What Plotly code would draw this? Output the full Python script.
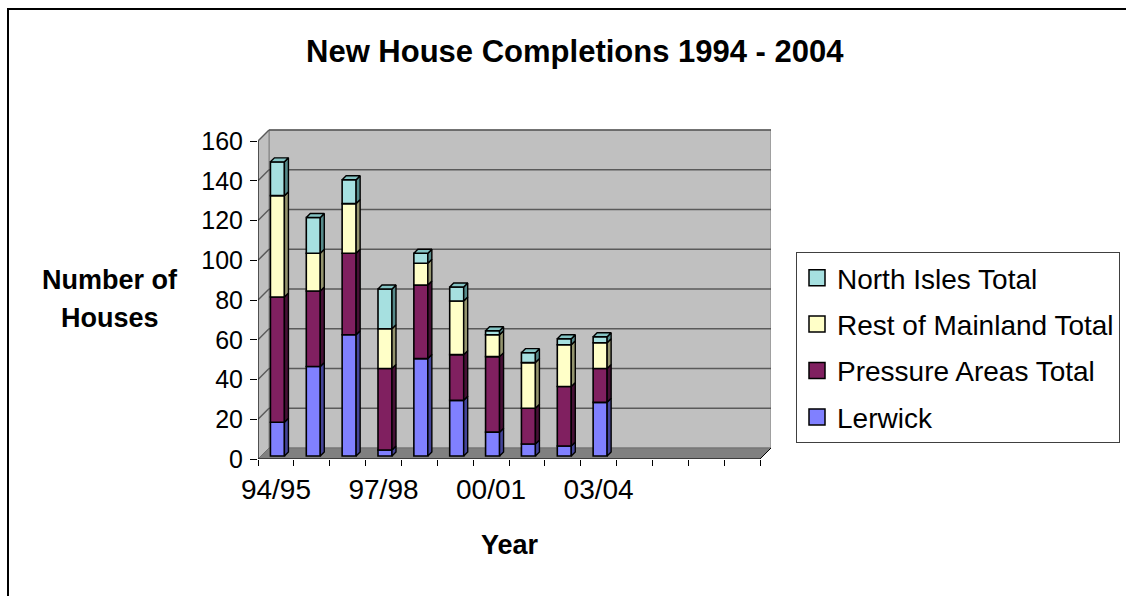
import plotly.graph_objects as go

# ---------------- data ----------------
categories = ["94/95", "95/96", "96/97", "97/98", "98/99", "99/00",
              "00/01", "01/02", "02/03", "03/04"]
n_slots = 14  # category slots on the axis (last ones empty)
lerwick = [17, 45, 61, 3, 49, 28, 12, 6, 5, 27]
pressure = [63, 38, 41, 41, 37, 23, 38, 18, 30, 17]
rest_mainland = [51, 19, 25, 20, 11, 27, 11, 23, 21, 13]
north_isles = [17, 18, 12, 20, 5, 7, 2, 5, 3, 3]
y_ticks = [0, 20, 40, 60, 80, 100, 120, 140, 160]
x_label_idx = [0, 3, 6, 9]

series = [
    ("Lerwick", lerwick, "#8080FF", "#444499", "#A8A8FF"),
    ("Pressure Areas Total", pressure, "#802060", "#461035", "#A04080"),
    ("Rest of Mainland Total", rest_mainland, "#FFFFC8", "#94946E", "#E0E0B0"),
    ("North Isles Total", north_isles, "#A6E0E0", "#568A8A", "#84C4C4"),
]

# ---------------- geometry (pixels -> data units) ----------------
W, H = 1126, 596
FX0, FX1 = 258, 760          # front x-axis pixel extent
FY0, FY160 = 459, 141         # front y-axis pixel of 0 and 160
PXX = (FX1 - FX0) / n_slots
PXY = (FY0 - FY160) / 160.0
WALL_DX, WALL_DY = 11 / PXX, 11 / PXY
BAR_DX, BAR_DY = 4 / PXX, 4 / PXY
BAR_W = 14 / PXX
BAR_BASE = 3 / PXY
BAR_SHIFT = 1.5 / PXX

xr = [-0.5, n_slots - 0.5 + WALL_DX]
yr = [0, 160 + WALL_DY + 2]
x_px1 = FX0 + (xr[1] - xr[0]) * PXX
y_px_top = FY0 - yr[1] * PXY
xdom = [FX0 / W, x_px1 / W]
ydom = [(H - FY0) / H, (H - y_px_top) / H]

fig = go.Figure()

n = len(categories)
cum = [0.0] * n
tops = [None] * n
for name, vals, front, side, top in series:
    xs = [i + BAR_SHIFT for i in range(n)]
    bases = [c + BAR_BASE for c in cum]
    fig.add_trace(go.Bar(
        x=xs, y=vals, base=bases, width=BAR_W,
        marker=dict(color=front, line=dict(color="black", width=1.6)),
        showlegend=False, hoverinfo="skip"))
    # side faces
    px, py = [], []
    for i in range(n):
        if vals[i] <= 0:
            continue
        xR = xs[i] + BAR_W / 2
        y0 = bases[i]
        y1 = bases[i] + vals[i]
        px += [xR, xR + BAR_DX, xR + BAR_DX, xR, xR, None]
        py += [y0, y0 + BAR_DY, y1 + BAR_DY, y1, y0, None]
        tops[i] = (xs[i], y1, top)
    fig.add_trace(go.Scatter(
        x=px, y=py, mode="lines", fill="toself", fillcolor=side,
        line=dict(color="black", width=1.4), showlegend=False, hoverinfo="skip"))
    cum = [c + v for c, v in zip(cum, vals)]

# top faces
by_color = {}
for t in tops:
    if t is None:
        continue
    xc, y1, col = t
    xL, xR = xc - BAR_W / 2, xc + BAR_W / 2
    lst = by_color.setdefault(col, ([], []))
    lst[0].extend([xL, xL + BAR_DX, xR + BAR_DX, xR, xL, None])
    lst[1].extend([y1, y1 + BAR_DY, y1 + BAR_DY, y1, y1, None])
for col, (px, py) in by_color.items():
    fig.add_trace(go.Scatter(
        x=px, y=py, mode="lines", fill="toself", fillcolor=col,
        line=dict(color="black", width=1.4), showlegend=False, hoverinfo="skip"))

# legend entries (top to bottom)
for rank, (name, vals, front, side, top) in enumerate(reversed(series)):
    fig.add_trace(go.Scatter(
        x=[None], y=[None], mode="markers", name=name, legendgroup=name,
        legendrank=rank + 1,
        marker=dict(symbol="square", size=16, color=front,
                    line=dict(color="black", width=1.5))))

# ---------------- walls, floor, gridlines ----------------
shapes = []
x_lo, x_hi = -0.5, n_slots - 0.5
# back wall
shapes.append(dict(type="rect", xref="x", yref="y", layer="below",
                   x0=x_lo + WALL_DX, x1=x_hi + WALL_DX, y0=WALL_DY, y1=160 + WALL_DY,
                   fillcolor="#C0C0C0", line=dict(color="#808080", width=1)))
# left wall
shapes.append(dict(type="path", xref="x", yref="y", layer="below",
                   path=f"M{x_lo},0 L{x_lo + WALL_DX},{WALL_DY} L{x_lo + WALL_DX},{160 + WALL_DY} L{x_lo},160 Z",
                   fillcolor="#C0C0C0", line=dict(color="#808080", width=1)))
# floor
shapes.append(dict(type="path", xref="x", yref="y", layer="below",
                   path=f"M{x_lo},0 L{x_hi},0 L{x_hi + WALL_DX},{WALL_DY} L{x_lo + WALL_DX},{WALL_DY} Z",
                   fillcolor="#808080", line=dict(color="#707070", width=1)))
for v in y_ticks[1:]:
    shapes.append(dict(type="line", xref="x", yref="y", layer="below",
                       x0=x_lo + WALL_DX, x1=x_hi + WALL_DX, y0=v + WALL_DY, y1=v + WALL_DY,
                       line=dict(color="#5A5A5A", width=1.5)))
    shapes.append(dict(type="line", xref="x", yref="y", layer="below",
                       x0=x_lo, x1=x_lo + WALL_DX, y0=v, y1=v + WALL_DY,
                       line=dict(color="#5A5A5A", width=1.5)))
# front axis lines
shapes.append(dict(type="line", xref="x", yref="y", x0=x_lo, x1=x_lo, y0=0, y1=160,
                   line=dict(color="black", width=1)))
shapes.append(dict(type="line", xref="x", yref="y", x0=x_lo, x1=x_hi, y0=0, y1=0,
                   line=dict(color="black", width=1)))
shapes.append(dict(type="line", xref="x", yref="y", x0=x_hi, x1=x_hi + WALL_DX, y0=0, y1=WALL_DY,
                   line=dict(color="black", width=1)))
# chart border
shapes.append(dict(type="rect", xref="paper", yref="paper",
                   x0=8 / W, x1=1.02, y0=-0.02, y1=(H - 9) / H,
                   line=dict(color="black", width=2), fillcolor="rgba(0,0,0,0)"))

FONT = "Liberation Sans, Arial, sans-serif"
annotations = [
    dict(text="<b>New House Completions 1994 - 2004</b>", x=575 / W, y=(H - 52) / H,
         xref="paper", yref="paper", showarrow=False, xanchor="center", yanchor="middle",
         font=dict(size=31, family=FONT, color="black")),
    dict(text="<b>Number of</b>", x=110 / W, y=(H - 280) / H,
         xref="paper", yref="paper", showarrow=False, xanchor="center", yanchor="middle",
         font=dict(size=27, family=FONT, color="black")),
    dict(text="<b>Houses</b>", x=110 / W, y=(H - 318) / H,
         xref="paper", yref="paper", showarrow=False, xanchor="center", yanchor="middle",
         font=dict(size=27, family=FONT, color="black")),
    dict(text="<b>Year</b>", x=510 / W, y=(H - 545) / H,
         xref="paper", yref="paper", showarrow=False, xanchor="center", yanchor="middle",
         font=dict(size=27, family=FONT, color="black")),
]

fig.update_layout(
    width=W, height=H,
    margin=dict(l=0, r=0, t=0, b=0, autoexpand=False),
    paper_bgcolor="white", plot_bgcolor="rgba(0,0,0,0)",
    barmode="overlay",
    font=dict(family=FONT, color="black"),
    shapes=shapes, annotations=annotations,
    xaxis=dict(range=xr, domain=xdom, showgrid=False, zeroline=False, showline=False,
               tickmode="array", tickvals=x_label_idx,
               ticktext=[categories[i] for i in x_label_idx],
               ticks="", ticklabelstandoff=11,
               tickfont=dict(size=28, family=FONT, color="black"),
               minor=dict(ticks="outside", ticklen=6, tickcolor="black", tickwidth=1,
                          tickmode="array",
                          tickvals=[k - 0.5 for k in range(n_slots + 1)], showgrid=False),
               automargin=False, fixedrange=True),
    yaxis=dict(range=yr, domain=ydom, showgrid=False, zeroline=False, showline=False,
               tickmode="array", tickvals=y_ticks, ticks="outside", ticklen=7,
               tickcolor="black", tickwidth=1, ticklabelstandoff=2,
               tickfont=dict(size=25, family=FONT, color="black"),
               automargin=False, fixedrange=True),
    legend=dict(x=796 / W, y=(H - 252) / H, xanchor="left", yanchor="top",
                bordercolor="#404040", borderwidth=1, bgcolor="white",
                font=dict(size=28, family=FONT, color="black"),
                traceorder="grouped", tracegroupgap=7, itemwidth=30),
)

fig.write_html("out.html", config={"displayModeBar": False},
               post_script="document.body.style.margin='0';document.body.style.overflow='hidden';")
